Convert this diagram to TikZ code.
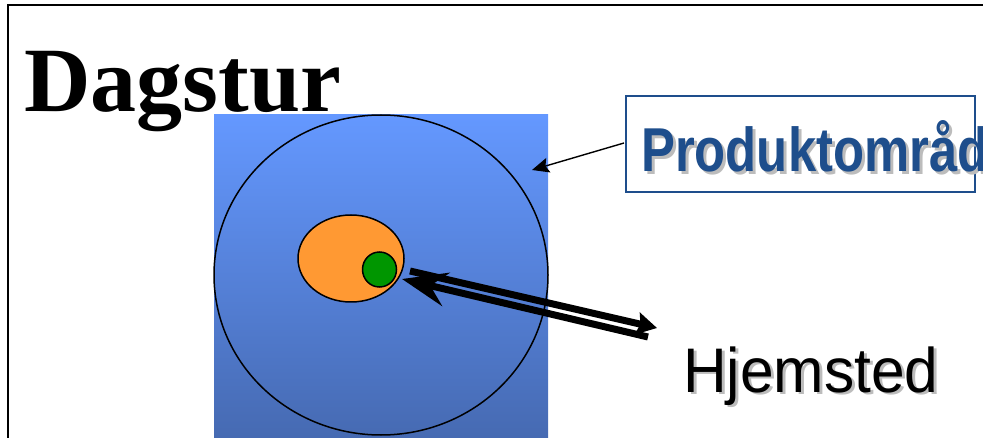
\documentclass[tikz,border=0pt]{standalone}
\usepackage{fontspec}
\setmainfont{Liberation Serif}
\newfontfamily\sansfont{Liberation Sans}
\usetikzlibrary{arrows.meta,shapes.geometric}

\definecolor{areablue}{RGB}{30,78,140}
\definecolor{shadowgray}{RGB}{188,188,188}
\definecolor{skytop}{RGB}{100,152,255}
\definecolor{skybottom}{RGB}{70,106,178}
\definecolor{homeorange}{RGB}{255,153,51}
\definecolor{homegreen}{RGB}{0,150,0}

\tikzset{
  frameline/.style={line width=2pt},
  titletext/.style={anchor=base west, inner sep=0pt,
    font=\fontsize{92}{92}\selectfont\bfseries},
  areatext/.style={anchor=base west, inner sep=0pt, xscale=0.82,
    font=\sansfont\fontsize{62}{62}\selectfont\bfseries},
  hometext/.style={anchor=base west, inner sep=0pt, xscale=0.96,
    font=\sansfont\fontsize{63}{63}\selectfont},
  areabox/.style={draw=areablue, line width=2.5pt, inner sep=0pt},
  zone/.style={ellipse, draw, line width=1.5pt, inner sep=0pt},
  bigarrow/.style={line width=7pt},
  pointer/.style={line width=1.4pt, -{Stealth[length=17pt,width=15pt,inset=3pt]}}
}

\begin{document}
\begin{tikzpicture}[x=1pt,y=-1pt]
\useasboundingbox (0,0) rectangle (983,438);

% slide frame
\draw[frameline] (8,438) -- (8,5) -- (983,5);

% title
\node[titletext] (title) at (24,112) {Dagstur};

% product area background
\shade[top color=skytop, bottom color=skybottom] (214,115) rectangle (548,438);

% nested zones
\node[zone, minimum width=334pt, minimum height=320pt] (day) at (381,275) {};
\node[zone, fill=homeorange, minimum width=106pt, minimum height=87pt] (region) at (351,258.5) {};
\node[zone, fill=homegreen, minimum width=34pt, minimum height=35pt] (home) at (379.5,269.5) {};

% two-way travel arrows
\coordinate (backstart) at (648,337);
\coordinate (backend) at (402,279);
\coordinate (outstart) at (410,271);
\coordinate (outend) at (657,328);
\draw[bigarrow, -{Stealth[length=45pt,width=34pt,inset=16pt]}] (backstart) -- (backend);
\draw[bigarrow, -{Stealth[length=20pt,width=22pt,inset=3pt]}] (outstart) -- (outend);

% product area label
\node[areabox, minimum width=349pt, minimum height=96pt] (labelbox) at (800.5,144) {};
\node[areatext, text=shadowgray] (areashadow) at (644,175) {Produktområd};
\node[areatext, text=areablue] (arealabel) at (641,172) {Produktområd};
\coordinate (pointfrom) at (624,143);
\coordinate (pointto) at (532,170);
\draw[pointer] (pointfrom) -- (pointto);

% home label
\node[hometext, text=shadowgray] (homeshadow) at (686,395) {Hjemsted};
\node[hometext] (homelabel) at (683,392) {Hjemsted};
\end{tikzpicture}
\end{document}
